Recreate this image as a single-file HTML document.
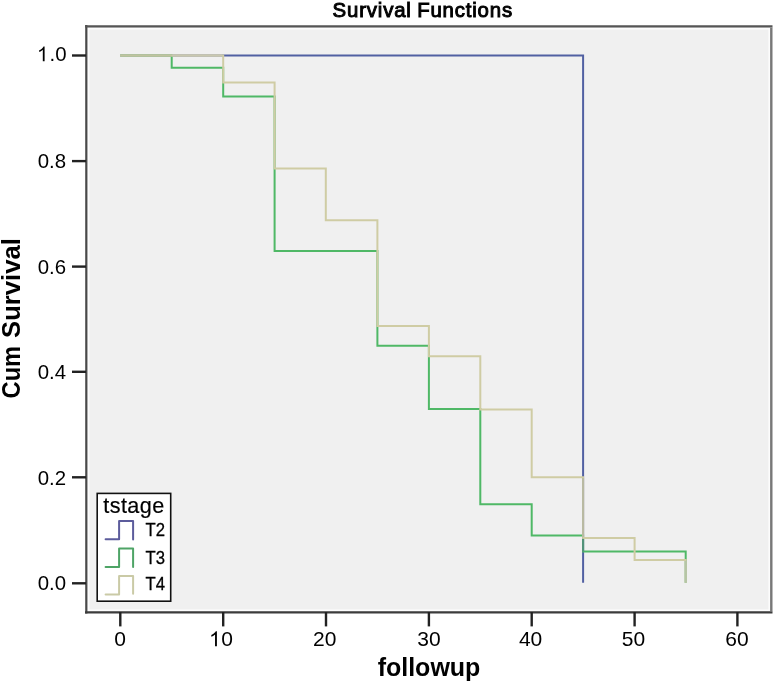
<!DOCTYPE html>
<html><head><meta charset="utf-8"><style>
html,body{margin:0;padding:0;background:#fff;width:774px;height:683px;overflow:hidden}
svg{display:block;will-change:transform}
text{font-family:"Liberation Sans",sans-serif;fill:#000}
</style></head><body>
<svg width="774" height="683" viewBox="0 0 774 683">
<!-- plot background -->
<rect x="86" y="26" width="685" height="586" fill="#f0f0f0"/>
<rect x="88.6" y="28.8" width="680.6" height="581.4" fill="none" stroke="#fcfcfc" stroke-width="1.6"/>
<!-- frame -->
<line x1="86.3" y1="25" x2="86.3" y2="613.5" stroke="#4a4a4a" stroke-width="2.2"/>
<line x1="85" y1="26.35" x2="772.5" y2="26.35" stroke="#555" stroke-width="2.2"/>
<line x1="85" y1="612.4" x2="772.5" y2="612.4" stroke="#3c3c3c" stroke-width="2.2"/>
<line x1="771.3" y1="27.4" x2="771.3" y2="611.3" stroke="#787878" stroke-width="2.4"/>

<!-- y ticks -->
<g stroke="#222" stroke-width="2.4">
<line x1="72" y1="55.5" x2="86" y2="55.5"/>
<line x1="72" y1="161.1" x2="86" y2="161.1"/>
<line x1="72" y1="266.6" x2="86" y2="266.6"/>
<line x1="72" y1="371.8" x2="86" y2="371.8"/>
<line x1="72" y1="477.3" x2="86" y2="477.3"/>
<line x1="72" y1="583.3" x2="86" y2="583.3"/>
</g>
<!-- x ticks -->
<g stroke="#222" stroke-width="2.4">
<line x1="120.3" y1="612" x2="120.3" y2="626.4"/>
<line x1="223.2" y1="612" x2="223.2" y2="626.4"/>
<line x1="326" y1="612" x2="326" y2="626.4"/>
<line x1="428.9" y1="612" x2="428.9" y2="626.4"/>
<line x1="531.7" y1="612" x2="531.7" y2="626.4"/>
<line x1="634.6" y1="612" x2="634.6" y2="626.4"/>
<line x1="737.4" y1="612" x2="737.4" y2="626.4"/>
</g>

<!-- y tick labels -->
<g font-size="20.4" text-anchor="end">
<path d="M44.60,61.20 L42.81,61.20 L42.81,49.77 Q41.67,50.90 40.43,51.53 Q39.65,51.90 39.18,51.95 L39.18,50.21 Q41.08,49.37 42.30,48.14 Q43.32,47.12 43.51,46.50 L44.60,46.50 Z" fill="#000"/>
<text x="66.5" y="61.2">.0</text>
<text x="66" y="168.2">0.8</text>
<text x="66" y="273.5">0.6</text>
<text x="66" y="378.5">0.4</text>
<text x="66" y="485.2">0.2</text>
<text x="66" y="590.3">0.0</text>
</g>
<!-- x tick labels -->
<g font-size="21" text-anchor="middle">
<text x="120.2" y="646.3">0</text>
<path d="M216.90,646.30 L215.05,646.30 L215.05,634.54 Q213.88,635.69 212.60,636.35 Q211.81,636.72 211.32,636.77 L211.32,634.99 Q213.28,634.12 214.54,632.86 Q215.59,631.81 215.78,631.17 L216.90,631.17 Z" fill="#000"/>
<text x="221.2" y="646.3" text-anchor="start">0</text>
<text x="324.8" y="646.3">20</text>
<text x="428.9" y="646.3">30</text>
<text x="530.6" y="646.3">40</text>
<text x="633.5" y="646.3">50</text>
<text x="737" y="646.3">60</text>
</g>

<!-- titles -->
<text x="332.6" y="16.8" font-size="20.4" letter-spacing="0.82" word-spacing="-1" stroke="#000" stroke-width="0.95">Survival Functions</text>
<text x="429" y="675.8" font-size="25" font-weight="bold" text-anchor="middle">followup</text>
<text transform="translate(20,398.4) rotate(-90)" font-size="25" font-weight="bold" textLength="52.4" lengthAdjust="spacingAndGlyphs">Cum</text>
<text transform="translate(20,337.9) rotate(-90)" font-size="25" font-weight="bold" textLength="99.7" lengthAdjust="spacingAndGlyphs">Survival</text>

<!-- curves -->
<g fill="none" stroke-width="2" stroke-linejoin="miter" stroke-linecap="butt">
<!-- T2 blue -->
<path stroke="#5160a2" d="M120.3 55.4 H583.1 V582.8"/>
<!-- T3 green -->
<path stroke="#4fb866" d="M120.3 55.5 H171.7 V67.8 H223.2 V96.6 H274.6 V251 H377.4 V345.7 H428.9 V409.1 H480.3 V504.2 H531.7 V535.5 H583.1 V551.6 H685.7 V582.7"/>
<!-- T4 beige -->
<path stroke="#cfcca4" d="M120.3 55.5 H223.2 V82.6 H274.6 V168.5 H325.8 V220.2 H377.4 V325.9 H428.9 V356.3 H480.3 V409.4 H531.7 V477.2 H583.1 V537.9 H634.6 V560 H685.7 V582.7"/>
</g>

<path stroke="#c0c39f" stroke-width="2" fill="none" d="M120.3 55.5 H171.7"/>
<path stroke="#c9c8b0" stroke-width="2" fill="none" d="M171.7 55.5 H222.2"/>
<path stroke="#b8b9a2" stroke-width="2" fill="none" d="M583.1 478.2 V536.9"/>
<path stroke="#52907a" stroke-width="2" fill="none" d="M583.1 538.9 V551.6"/>
<path stroke="#b7c4a6" stroke-width="2" fill="none" d="M685.7 561 V582.7"/>
<!-- legend -->
<rect x="97.2" y="493.4" width="73.5" height="107.8" fill="#fff" stroke="#111" stroke-width="1.6"/>
<text x="103.2" y="512.6" font-size="21.6" letter-spacing="0.45" stroke="#000" stroke-width="0.2">tstage</text>
<g fill="none" stroke-width="2" stroke-linejoin="round" stroke-linecap="round">
<path stroke="#5c5c9c" d="M105.6 539.3 H119.1 V520.9 H133.1 V539.4"/>
<path stroke="#4ea466" d="M105.6 567 H119.1 V548.4 H133.1 V567"/>
<path stroke="#cacaa6" d="M105.6 594.5 H119.1 V575.9 H133.1 V593.8"/>
</g>
<g font-size="19" stroke="#000" stroke-width="0.3" transform="translate(145.5,0) scale(0.88,1)">
<text x="0" y="536">T2</text>
<text x="0" y="563.8">T3</text>
<text x="0" y="590.5">T4</text>
</g>
</svg>
</body></html>
